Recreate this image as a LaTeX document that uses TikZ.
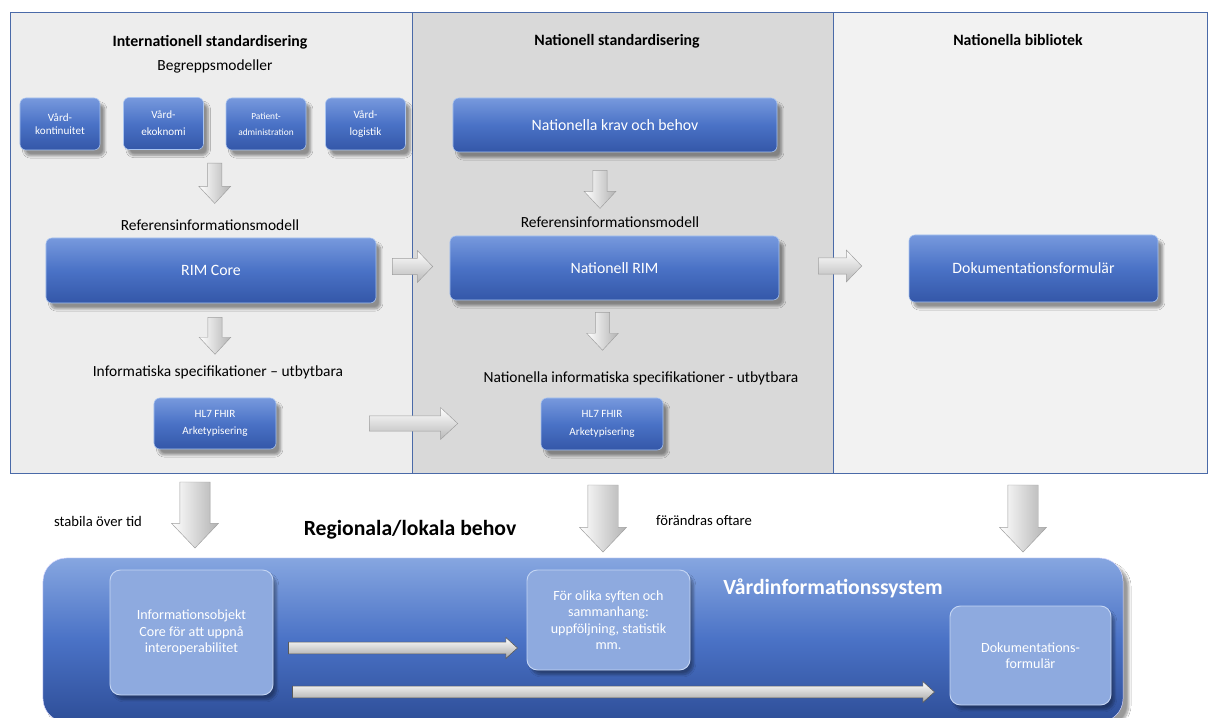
\documentclass[tikz,border=0pt]{standalone}
\usepackage{fontspec}
\setmainfont{Carlito}
\usetikzlibrary{calc,positioning,shadows.blur}

\definecolor{panelline}{HTML}{4A6AA8}
\definecolor{intfill}{HTML}{EDEDED}
\definecolor{natfill}{HTML}{D9D9D9}
\definecolor{bibfill}{HTML}{F2F2F2}
\definecolor{btntop}{HTML}{7799DD}
\definecolor{btnmid}{HTML}{4A72C6}
\definecolor{btnbot}{HTML}{3457A8}
\definecolor{btnedge}{HTML}{A9C4F0}
\definecolor{vistop}{HTML}{86A6E0}
\definecolor{vismid}{HTML}{4A72C6}
\definecolor{visbot}{HTML}{2E4E98}
\definecolor{innerfill}{HTML}{8EAADF}
\definecolor{inneredge}{HTML}{C4D5F3}

\begin{document}
\begin{tikzpicture}[x=0.03cm, y=0.03cm,
    panel/.style={rectangle, draw=panelline, line width=0.6pt, minimum height=13.83cm, outer sep=0pt},
    ptitle/.style={font=\fontsize{13.5}{15}\selectfont\bfseries},
    lbl/.style={font=\fontsize{13.2}{15}\selectfont},
    btn/.style={rectangle, rounded corners=5pt, top color=btntop, bottom color=btnbot, middle color=btnmid, draw=btnedge, line width=0.5pt, text=white, align=center, font=\fontsize{13.5}{15}\selectfont,
        blur shadow={shadow xshift=4pt, shadow yshift=-5pt, shadow opacity=40, shadow blur steps=8}},
    small/.style={btn, minimum width=2.4cm, minimum height=1.56cm, font=\fontsize{9.5}{11.5}\selectfont},
    sub/.style={rectangle, rounded corners=9pt, fill=innerfill, draw=inneredge, line width=0.8pt, text=white, align=center, font=\fontsize{12}{14}\selectfont,
        blur shadow={shadow xshift=3pt, shadow yshift=-4pt, shadow opacity=35, shadow blur steps=8}},
    % block arrows: shaft half width, head half width, head length
    hblock/.style n args={3}{to path={let \p1=(\tikztostart), \p2=(\tikztotarget) in
        (\x1,\y1+#1) -- (\x2-#3,\y1+#1) -- (\x2-#3,\y1+#2) -- (\x2,\y1) -- (\x2-#3,\y1-#2) -- (\x2-#3,\y1-#1) -- (\x1,\y1-#1) -- cycle}},
    vblock/.style n args={3}{to path={let \p1=(\tikztostart), \p2=(\tikztotarget) in
        (\x1-#1,\y1) -- (\x1-#1,\y2+#3) -- (\x1-#2,\y2+#3) -- (\x1,\y2) -- (\x1+#2,\y2+#3) -- (\x1+#1,\y2+#3) -- (\x1+#1,\y1) -- cycle}},
    harrow/.style={top color=white, bottom color=gray!55, draw=gray!75, line width=0.4pt},
    varrow/.style={left color=white, right color=gray!60, draw=gray!75, line width=0.4pt},
    inarrow/.style={top color=white, bottom color=gray!70, draw=black!65, line width=0.5pt}
]
\useasboundingbox (0,0) rectangle (1208,717);
\fill[white] (0,0) rectangle (1208,717);

% Panels
\node[panel, fill=intfill, minimum width=12.06cm] (pint) at (211,474.5) {};
\node[panel, fill=natfill, minimum width=12.63cm] (pnat) at (622.5,474.5) {};
\node[panel, fill=bibfill, minimum width=11.22cm] (pbib) at (1020,474.5) {};

\node[ptitle] (tint) at (210,675) {Internationell standardisering};
\node[lbl] (begrepp) at (215,651) {Begreppsmodeller};
\node[ptitle] (tnat) at (617,676) {Nationell standardisering};
\node[ptitle] (tbib) at (1018,677) {Nationella bibliotek};

% Internationell - begreppsmodeller
\node[small] (kont) at (60,593) {Vård-\\kontinuitet};
\node[small] (ekon) at (163.5,593.5) {Vård-\\[3pt]ekoknomi};
\node[small, font=\fontsize{8}{9.5}\selectfont] (pat) at (266,593) {Patient-\\[4pt]administration};
\node[small] (logi) at (365.5,593) {Vård-\\[3pt]logistik};

\node[lbl] (refint) at (210,492) {Referensinformationsmodell};
\node[btn, minimum width=9.9cm, minimum height=1.95cm] (rimcore) at (211,446.5) {RIM Core};
\node[lbl] (infint) at (218,345) {Informatiska specifikationer -- utbytbara};
\node[btn, minimum width=3.66cm, minimum height=1.53cm, font=\fontsize{9.5}{11}\selectfont] (hlint) at (215,293.5) {HL7 FHIR\\[4pt]Arketypisering};

% Nationell
\node[btn, minimum width=9.72cm, minimum height=1.62cm] (krav) at (615,592) {Nationella krav och behov};
\node[lbl] (refnat) at (610,495) {Referensinformationsmodell};
\node[btn, minimum width=9.87cm, minimum height=1.92cm] (natrim) at (614.5,449) {Nationell RIM};
\node[lbl] (infnat) at (641,339) {Nationella informatiska specifikationer - utbytbara};
\node[btn, minimum width=3.66cm, minimum height=1.56cm, font=\fontsize{9.5}{11}\selectfont] (hlnat) at (602,293) {HL7 FHIR\\[4pt]Arketypisering};

% Bibliotek
\node[btn, minimum width=7.47cm, minimum height=2.01cm] (dok) at (1033.5,448.5) {Dokumentationsformulär};

% Arrows in the panels
\path[harrow, hblock={7pt}{13.5pt}{13pt}] ($(rimcore.east)+(16,4)$) to ($(natrim.west)+(-17,4)$);
\path[harrow, hblock={7pt}{13.5pt}{13pt}] ($(natrim.east)+(39,2)$) to ($(dok.west)+(-47,2)$);
\path[harrow, hblock={6.5pt}{13.5pt}{14.5pt}] ($(hlint.east)+(93,0)$) to ($(hlnat.west)+(-83,0)$);
\path[varrow, vblock={6pt}{13.5pt}{14.5pt}] ($(ekon.south)!0.5!(pat.south)+(0,-13)$) to ($(refint.north)+(5,12)$);
\path[varrow, vblock={6pt}{13.5pt}{14.5pt}] ($(rimcore.south)+(4,-14)$) to ($(infint.north)+(-3,7)$);
\path[varrow, vblock={6pt}{13.5pt}{14.5pt}] ($(krav.south)+(-15,-18)$) to ($(refnat.north)+(-10,4)$);
\path[varrow, vblock={6pt}{13.5pt}{14.5pt}] ($(natrim.south)+(-12,-12)$) to ($(infnat.north)+(-39,17)$);

% Regional/local level
\node[rectangle, rounded corners=20pt, minimum width=32.4cm, minimum height=4.92cm, top color=vistop, bottom color=visbot, middle color=vismid, draw=white!85!blue,
    blur shadow={shadow xshift=5pt, shadow yshift=-5pt, shadow opacity=40, shadow blur steps=8}] (vis) at (583,77) {};
\node[font=\fontsize{18.5}{21}\selectfont\bfseries, text=white] (vistitle) at (833,129) {Vårdinformationssystem};
\node[font=\fontsize{18.5}{21}\selectfont\bfseries] (regional) at (410,187) {Regionala/lokala behov};
\node[font=\fontsize{12.5}{14}\selectfont, anchor=west] (stabila) at (50,196) {stabila över tid};
\node[font=\fontsize{12.5}{14}\selectfont, anchor=west] (oftare) at (652,197) {förändras oftare};

\path[varrow, vblock={13pt}{20pt}{21pt}] ($(pint.south)+(-16,-9)$) to ($(pint.south)+(-16,-75)$);
\path[varrow, vblock={13pt}{20pt}{21pt}] ($(pnat.south)+(-19.5,-12)$) to ($(pnat.south)+(-19.5,-79)$);
\path[varrow, vblock={13pt}{20pt}{21pt}] ($(pbib.south)+(3,-12)$) to ($(pbib.south)+(3,-79)$);

\node[sub, minimum width=4.89cm, minimum height=3.75cm] (info) at (191.5,84.5) {Informationsobjekt\\Core för att uppnå\\interoperabilitet};
\node[sub, minimum width=4.89cm, minimum height=3.0cm] (syften) at (608.5,97) {För olika syften och\\sammanhang:\\uppföljning, statistik\\mm.};
\node[sub, minimum width=4.83cm, minimum height=2.97cm] (dokform) at (1030.5,61.5) {Dokumentations-\\formulär};

\path[inarrow, hblock={5pt}{9pt}{10pt}] ($(info.east)+(15,-15.5)$) to ($(syften.west)+(-9,-15.5)$);
\path[inarrow, hblock={5pt}{9pt}{10pt}] ($(info.east)+(19,-59.5)$) to ($(dokform.west)+(-15,-59.5)$);

\end{tikzpicture}
\end{document}
